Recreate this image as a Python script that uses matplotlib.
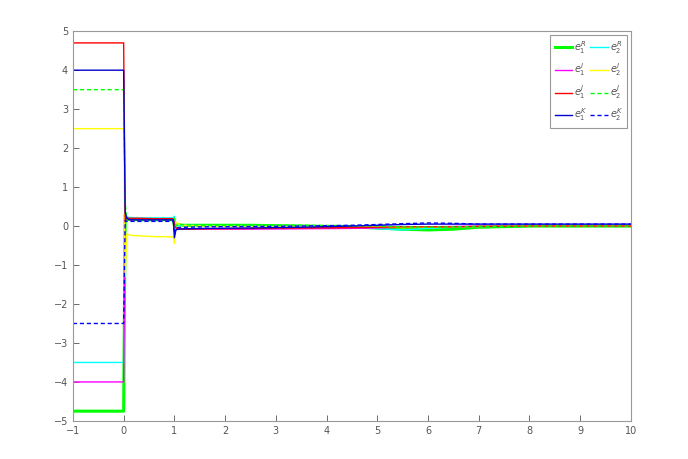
import matplotlib
matplotlib.use("Agg")
import matplotlib.pyplot as plt

# time samples
t = [-1, 0, 0.03, 0.06, 0.1, 0.15, 0.3, 0.6, 0.98, 1.0, 1.03, 1.08, 1.2,
     1.6, 2.5, 3.5, 4.5, 5.0, 5.5, 6.0, 6.5, 7.0, 8.0, 9.0, 10.0]

e1R = [-4.75, -4.75, 0.3, 0.2, 0.18, 0.18, 0.17, 0.17, 0.17, 0.0, 0.05, 0.03, 0.02,
       0.02, 0.02, 0.0, -0.02, -0.05, -0.08, -0.1, -0.08, -0.03, 0.0, 0.0, 0.0]
e2R = [-3.5, -3.5, 0.4, 0.25, 0.22, 0.22, 0.21, 0.21, 0.21, 0.25, 0.0, 0.02, 0.02,
       0.01, 0.0, 0.0, -0.03, -0.07, -0.1, -0.06, -0.03, -0.01, 0.0, 0.0, 0.0]
e1I = [-4.0, -4.0, 0.2, 0.15, 0.15, 0.15, 0.15, 0.15, 0.15, 0.1, -0.05, -0.08, -0.08,
       -0.08, -0.08, -0.07, -0.06, -0.05, -0.03, -0.02, -0.01, 0.0, 0.0, 0.0, 0.0]
e2I = [2.5, 2.5, -1.3, -0.2, -0.22, -0.24, -0.25, -0.27, -0.28, -0.45, 0.1, 0.05, 0.02,
       0.0, 0.0, 0.0, 0.0, -0.02, -0.04, -0.03, -0.02, -0.01, 0.0, 0.0, 0.0]
e1J = [4.7, 4.7, 0.1, 0.22, 0.2, 0.2, 0.2, 0.19, 0.19, 0.05, -0.05, -0.08, -0.08,
       -0.07, -0.06, -0.05, -0.04, -0.03, -0.02, -0.02, -0.02, -0.01, 0.0, 0.0, 0.0]
e2J = [3.5, 3.5, 0.6, 0.15, 0.15, 0.15, 0.14, 0.14, 0.14, 0.2, 0.0, 0.04, 0.03,
       0.02, 0.02, 0.02, 0.01, 0.0, -0.02, -0.03, -0.02, -0.01, 0.0, 0.0, 0.0]
e1K = [4.0, 4.0, 0.35, 0.2, 0.17, 0.16, 0.16, 0.16, 0.16, -0.3, -0.1, -0.08, -0.07,
       -0.06, -0.05, -0.03, 0.0, 0.02, 0.04, 0.05, 0.05, 0.05, 0.05, 0.05, 0.05]
e2K = [-2.5, -2.5, 0.15, 0.12, 0.12, 0.12, 0.12, 0.12, 0.12, -0.2, -0.05, -0.04, -0.03,
       -0.02, -0.01, 0.0, 0.02, 0.04, 0.06, 0.08, 0.07, 0.05, 0.05, 0.05, 0.05]

fig = plt.figure(figsize=(6.88, 4.59), dpi=100)
ax = fig.add_axes([0.106, 0.083, 0.811, 0.849])

dash = (0, (3, 2))
h1, = ax.plot(t, e1R, color="#00ff00", lw=2.2)
h2, = ax.plot(t, e2R, color="#00ffff", lw=1)
h3, = ax.plot(t, e1I, color="#ff00ff", lw=1)
h4, = ax.plot(t, e2I, color="#ffff00", lw=1)
h5, = ax.plot(t, e1J, color="#ff0000", lw=1)
h6, = ax.plot(t, e2J, color="#00ff00", lw=1, linestyle=dash)
h7, = ax.plot(t, e1K, color="#0000cc", lw=1)
h8, = ax.plot(t, e2K, color="#0000ff", lw=1, linestyle=dash)

ax.set_xlim(-1, 10)
ax.set_ylim(-5, 5)
ax.set_xticks(range(-1, 11))
ax.set_yticks(range(-5, 6))
ax.tick_params(direction="in", labelsize=7, colors="#555555", length=4, width=0.6)
for s in ax.spines.values():
    s.set_color("#999999")
    s.set_linewidth(0.8)

# legend fills column by column, so list e1 first then e2
leg = ax.legend([h1, h3, h5, h7, h2, h4, h6, h8],
                [r"$e_1^R$", r"$e_1^I$", r"$e_1^J$", r"$e_1^K$",
                 r"$e_2^R$", r"$e_2^I$", r"$e_2^J$", r"$e_2^K$"],
                ncol=2, loc="upper right", fontsize=7, handlelength=1.8,
                handletextpad=0.2, columnspacing=0.3, labelspacing=0.55,
                fancybox=False, framealpha=1, borderaxespad=0.35,
                borderpad=0.45)
leg.get_frame().set_edgecolor("#999999")
leg.get_frame().set_linewidth(0.8)
for txt in leg.get_texts():
    txt.set_color("#555555")

fig.savefig("out.png", dpi=100)
